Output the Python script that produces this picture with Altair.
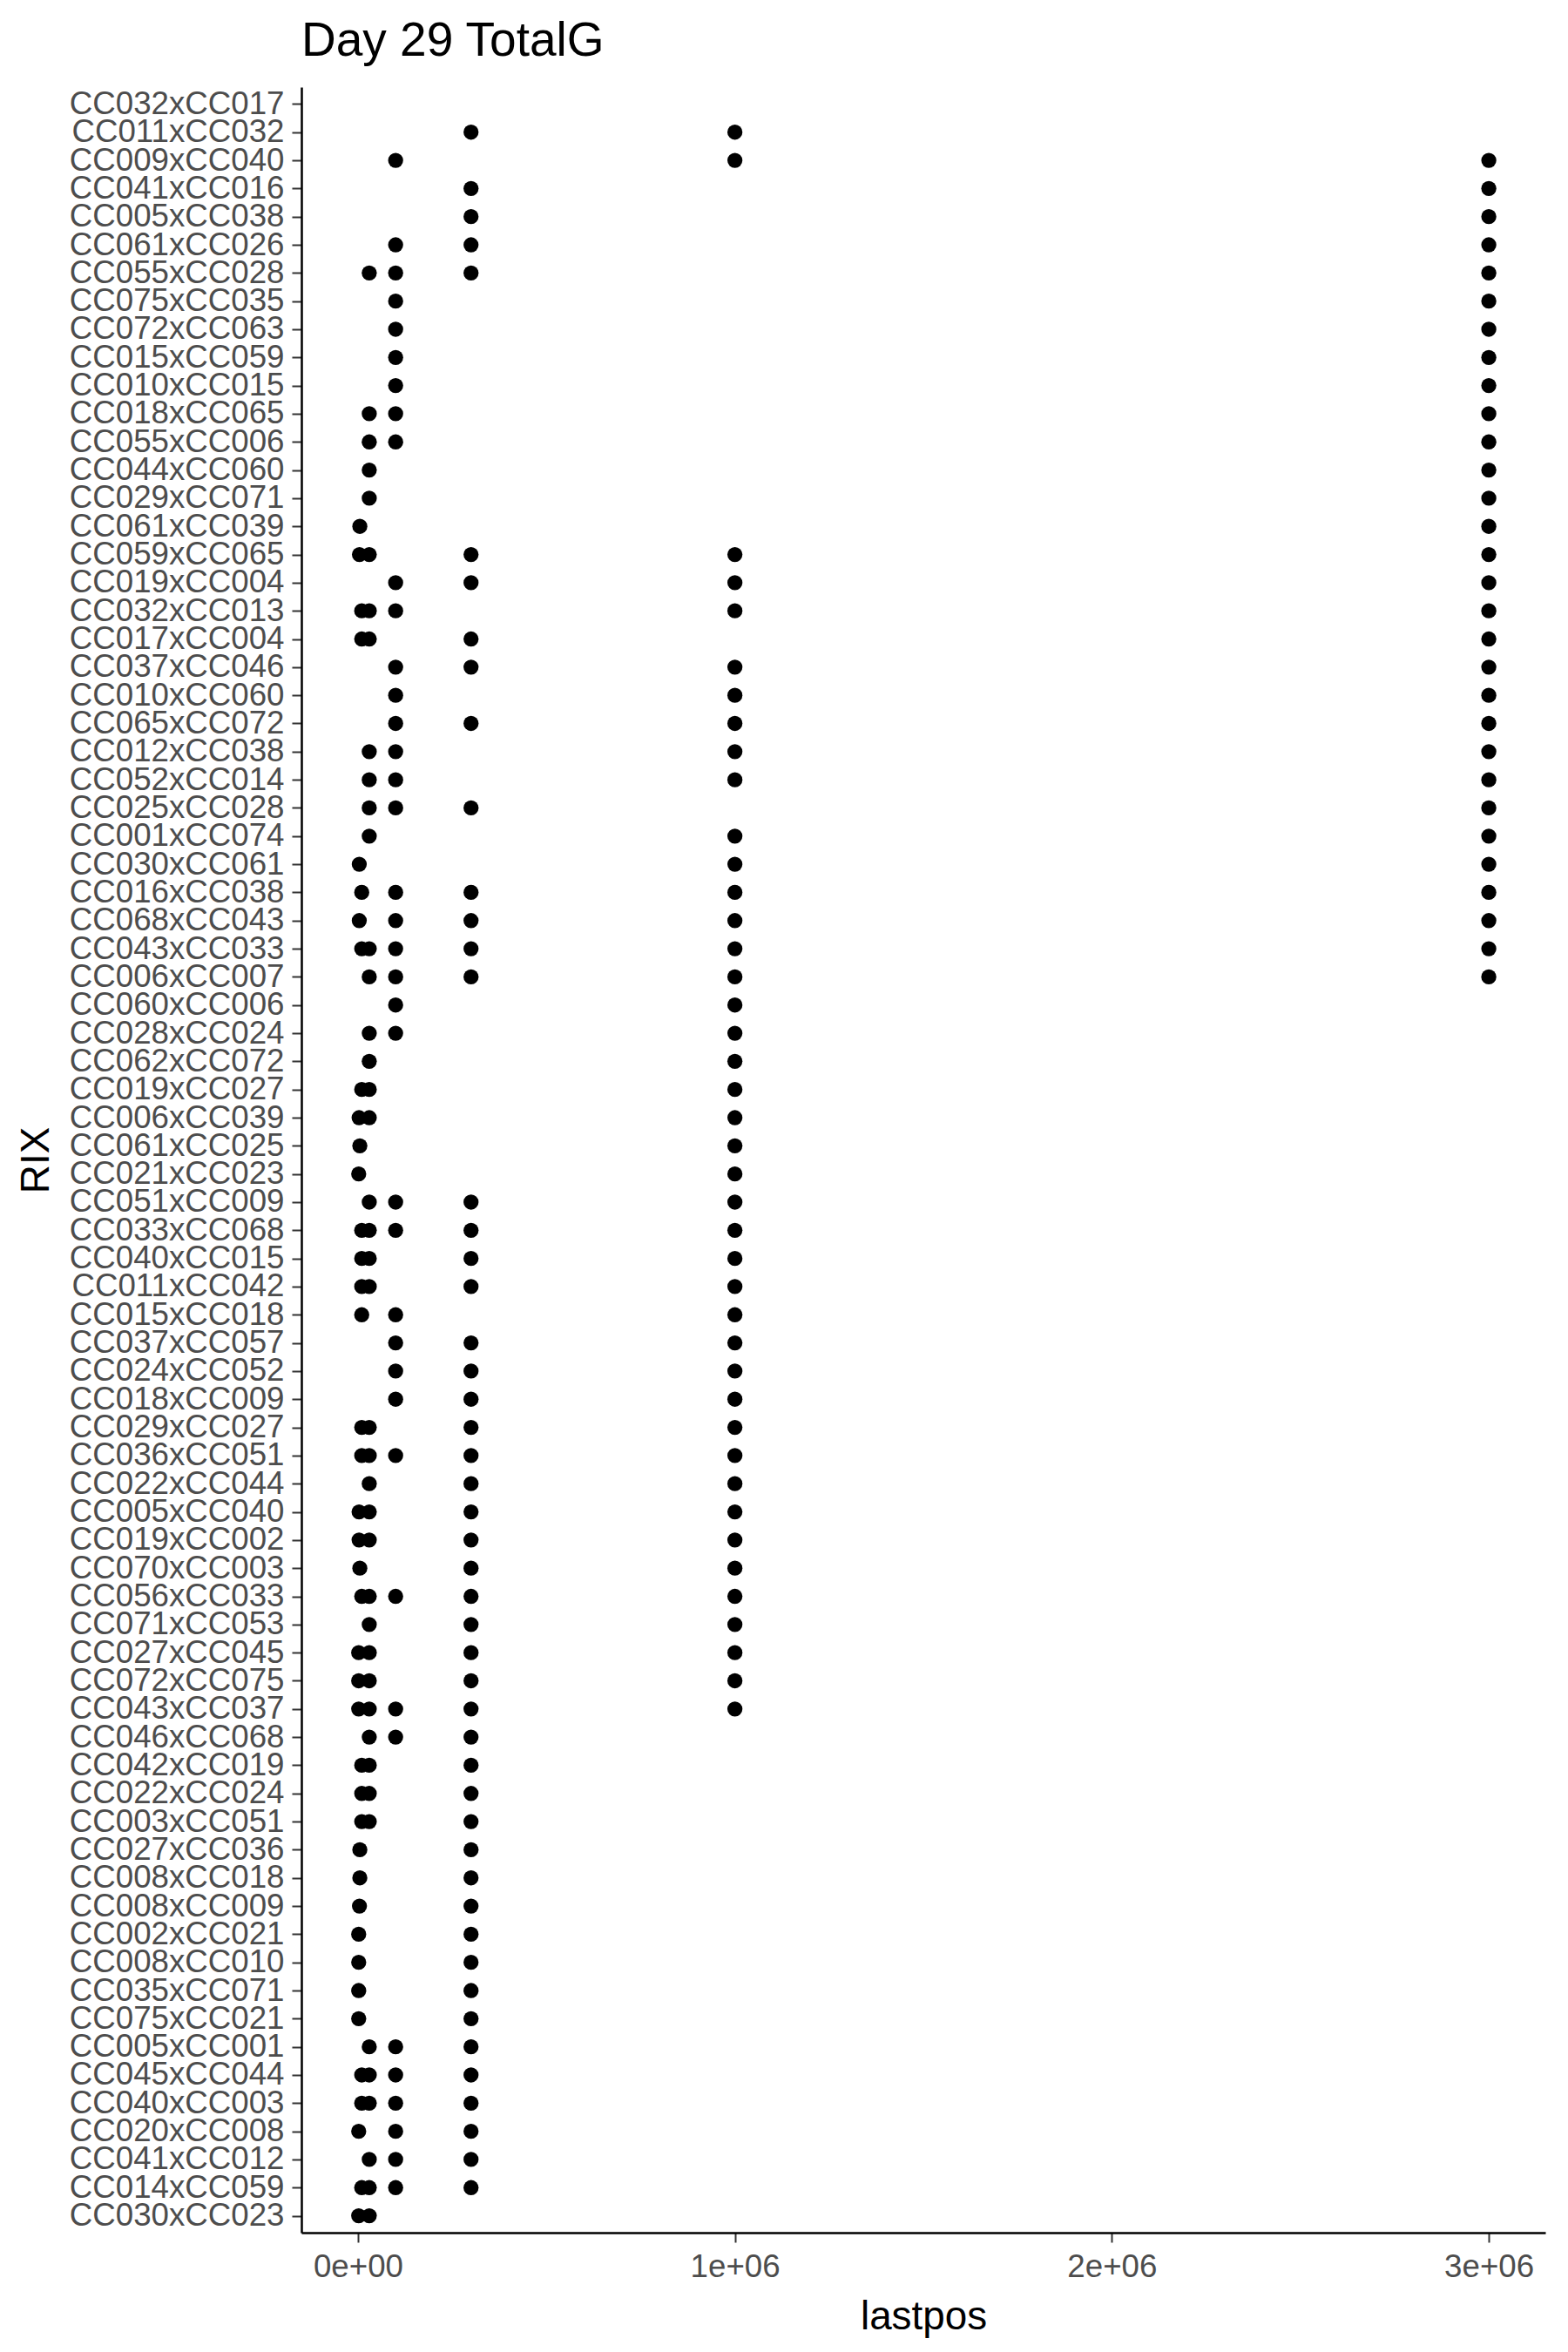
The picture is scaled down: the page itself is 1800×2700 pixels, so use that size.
import altair as alt
import pandas as pd

# RIX categories, top to bottom as drawn
rix = [
    "CC032xCC017", "CC011xCC032", "CC009xCC040", "CC041xCC016", "CC005xCC038",
    "CC061xCC026", "CC055xCC028", "CC075xCC035", "CC072xCC063", "CC015xCC059",
    "CC010xCC015", "CC018xCC065", "CC055xCC006", "CC044xCC060", "CC029xCC071",
    "CC061xCC039", "CC059xCC065", "CC019xCC004", "CC032xCC013", "CC017xCC004",
    "CC037xCC046", "CC010xCC060", "CC065xCC072", "CC012xCC038", "CC052xCC014",
    "CC025xCC028", "CC001xCC074", "CC030xCC061", "CC016xCC038", "CC068xCC043",
    "CC043xCC033", "CC006xCC007", "CC060xCC006", "CC028xCC024", "CC062xCC072",
    "CC019xCC027", "CC006xCC039", "CC061xCC025", "CC021xCC023", "CC051xCC009",
    "CC033xCC068", "CC040xCC015", "CC011xCC042", "CC015xCC018", "CC037xCC057",
    "CC024xCC052", "CC018xCC009", "CC029xCC027", "CC036xCC051", "CC022xCC044",
    "CC005xCC040", "CC019xCC002", "CC070xCC003", "CC056xCC033", "CC071xCC053",
    "CC027xCC045", "CC072xCC075", "CC043xCC037", "CC046xCC068", "CC042xCC019",
    "CC022xCC024", "CC003xCC051", "CC027xCC036", "CC008xCC018", "CC008xCC009",
    "CC002xCC021", "CC008xCC010", "CC035xCC071", "CC075xCC021", "CC005xCC001",
    "CC045xCC044", "CC040xCC003", "CC020xCC008", "CC041xCC012", "CC014xCC059",
    "CC030xCC023",
]

# lastpos values for each RIX (same order as rix)
lastpos = [
    [],
    [3e5, 1e6],
    [1e5, 1e6, 3e6],
    [3e5, 3e6],
    [3e5, 3e6],
    [1e5, 3e5, 3e6],
    [3e4, 1e5, 3e5, 3e6],
    [1e5, 3e6],
    [1e5, 3e6],
    [1e5, 3e6],
    [1e5, 3e6],
    [3e4, 1e5, 3e6],
    [3e4, 1e5, 3e6],
    [3e4, 3e6],
    [3e4, 3e6],
    [5e3, 3e6],
    [4e3, 3e4, 3e5, 1e6, 3e6],
    [1e5, 3e5, 1e6, 3e6],
    [1e4, 3e4, 1e5, 1e6, 3e6],
    [1e4, 3e4, 3e5, 3e6],
    [1e5, 3e5, 1e6, 3e6],
    [1e5, 1e6, 3e6],
    [1e5, 3e5, 1e6, 3e6],
    [3e4, 1e5, 1e6, 3e6],
    [3e4, 1e5, 1e6, 3e6],
    [3e4, 1e5, 3e5, 3e6],
    [3e4, 1e6, 3e6],
    [3.5e3, 1e6, 3e6],
    [1e4, 1e5, 3e5, 1e6, 3e6],
    [3.5e3, 1e5, 3e5, 1e6, 3e6],
    [1e4, 3e4, 1e5, 3e5, 1e6, 3e6],
    [3e4, 1e5, 3e5, 1e6, 3e6],
    [1e5, 1e6],
    [3e4, 1e5, 1e6],
    [3e4, 1e6],
    [1e4, 3e4, 1e6],
    [3e3, 3e4, 1e6],
    [5e3, 1e6],
    [2e3, 1e6],
    [3e4, 1e5, 3e5, 1e6],
    [1e4, 3e4, 1e5, 3e5, 1e6],
    [1e4, 3e4, 3e5, 1e6],
    [1e4, 3e4, 3e5, 1e6],
    [1e4, 1e5, 1e6],
    [1e5, 3e5, 1e6],
    [1e5, 3e5, 1e6],
    [1e5, 3e5, 1e6],
    [1e4, 3e4, 3e5, 1e6],
    [1e4, 3e4, 1e5, 3e5, 1e6],
    [3e4, 3e5, 1e6],
    [3e3, 3e4, 3e5, 1e6],
    [3e3, 3e4, 3e5, 1e6],
    [5e3, 3e5, 1e6],
    [1e4, 3e4, 1e5, 3e5, 1e6],
    [3e4, 3e5, 1e6],
    [2e3, 3e4, 3e5, 1e6],
    [2e3, 3e4, 3e5, 1e6],
    [2e3, 3e4, 1e5, 3e5, 1e6],
    [3e4, 1e5, 3e5],
    [1e4, 3e4, 3e5],
    [1e4, 3e4, 3e5],
    [1e4, 3e4, 3e5],
    [5e3, 3e5],
    [5e3, 3e5],
    [4e3, 3e5],
    [2e3, 3e5],
    [2e3, 3e5],
    [2e3, 3e5],
    [2e3, 3e5],
    [3e4, 1e5, 3e5],
    [1e4, 3e4, 1e5, 3e5],
    [1e4, 3e4, 1e5, 3e5],
    [2e3, 1e5, 3e5],
    [3e4, 1e5, 3e5],
    [1e4, 3e4, 1e5, 3e5],
    [2e3, 3e4],
]

x_ticks = [0, 1000000, 2000000, 3000000]
x_domain = [-150000, 3150000]

records = []
for name, vals in zip(rix, lastpos):
    for v in vals:
        records.append({"RIX": name, "lastpos": v})
df = pd.DataFrame(records)

FONT = "Liberation Sans"
W, H = 1428, 2463

chart = (
    alt.Chart(df)
    .mark_circle(size=300, color="black", opacity=1)
    .encode(
        x=alt.X(
            "lastpos:Q",
            scale=alt.Scale(domain=x_domain, nice=False, zero=False),
            axis=alt.Axis(
                values=x_ticks,
                labelExpr="datum.value == 0 ? '0e+00' : (datum.value / 1000000) + 'e+06'",
                title="lastpos",
                titleX=W / 2,
                titleY=110,
                titleBaseline="alphabetic",
                titleAlign="center",
                labelPadding=10,
            ),
        ),
        y=alt.Y(
            "RIX:N",
            scale=alt.Scale(type="point", padding=0.6, domain=rix),
            axis=alt.Axis(
                title="RIX",
                titleX=-291,
                titleY=H / 2,
                titleAngle=-90,
                titleBaseline="alphabetic",
                titleAlign="center",
                labelPadding=9,
                labelLimit=0,
            ),
        ),
    )
    .properties(
        width=W,
        height=H,
        title=alt.TitleParams(
            "Day 29 TotalG",
            anchor="start",
            frame="group",
            fontSize=55,
            font=FONT,
            fontWeight="normal",
            color="black",
            baseline="alphabetic",
            offset=38,
            dy=57,
        ),
        autosize=alt.AutoSizeParams(type="none"),
        padding={"left": 346, "top": 100, "right": 26, "bottom": 137},
    )
    .configure_view(strokeWidth=0)
    .configure_axis(
        grid=False,
        domainColor="black",
        domainWidth=2.5,
        tickColor="#333333",
        tickWidth=2,
        tickSize=11,
        labelFont=FONT,
        labelFontSize=36.7,
        labelColor="#4D4D4D",
        titleFont=FONT,
        titleFontSize=45.8,
        titleColor="black",
        titleFontWeight="normal",
    )
)

chart.save("out.html", embed_options={"renderer": "svg", "actions": False})
